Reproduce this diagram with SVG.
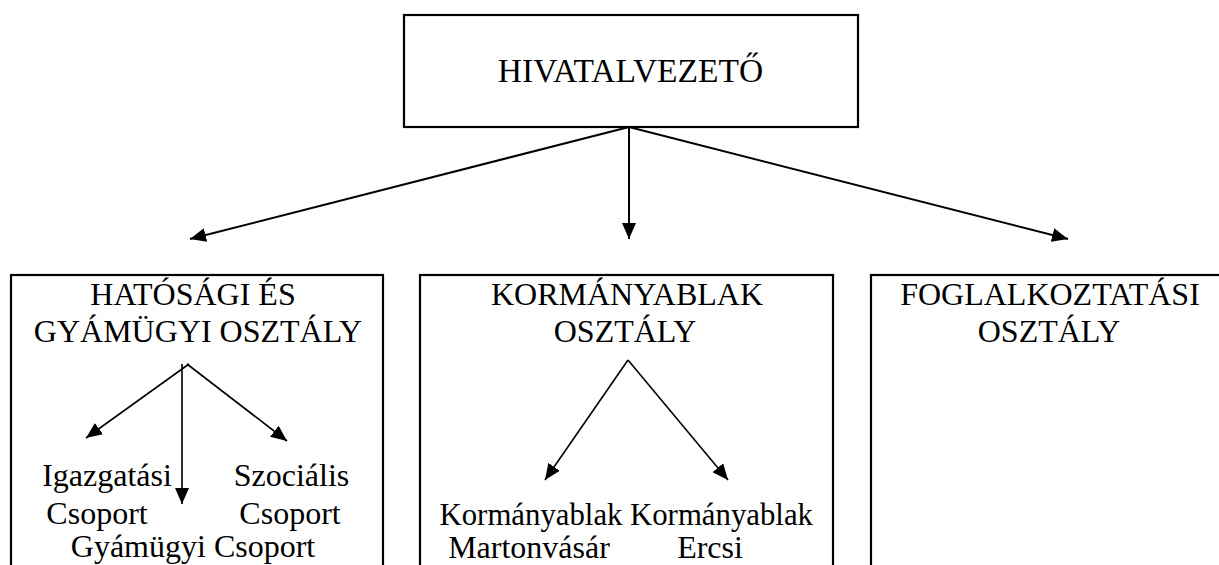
<svg xmlns="http://www.w3.org/2000/svg" width="1219" height="565" viewBox="0 0 1219 565">
<style>
.box{fill:#fff;stroke:#000;stroke-width:2.2}
.t{font-family:"Liberation Serif","Times New Roman",serif;font-size:32px;fill:#000;text-anchor:middle}
.h{font-size:33.5px}
.k{font-size:30.8px}
.c{stroke:#000;fill:none}
.main{stroke-width:2}
.sub{stroke-width:1.6}
</style>
<defs>
<marker id="ah" markerUnits="userSpaceOnUse" markerWidth="16" markerHeight="14" refX="16" refY="7" orient="auto">
<path d="M0,0 L16,7 L0,14 Z" fill="#000"/>
</marker>
</defs>
<rect width="1219" height="565" fill="#fff"/>
<g id="hivatalvezeto">
<rect class="box" x="404" y="15" width="454" height="112"/>
<text class="t h" x="630.5" y="82">HIVATALVEZETŐ</text>
</g>
<g id="hatosagi">
<rect class="box" x="11" y="275" width="372" height="310"/>
<text class="t" x="193" y="305">HATÓSÁGI ÉS</text>
<text class="t" x="198" y="342">GYÁMÜGYI OSZTÁLY</text>
</g>
<g id="igazgatasi">
<text class="t" x="107" y="486">Igazgatási</text>
<text class="t" x="97" y="524">Csoport</text>
</g>
<g id="szocialis">
<text class="t" x="291.5" y="486">Szociális</text>
<text class="t" x="290" y="524">Csoport</text>
</g>
<g id="gyamugyi">
<text class="t" x="193" y="557">Gyámügyi Csoport</text>
</g>
<g id="kormanyablak">
<rect class="box" x="420" y="275" width="413" height="310"/>
<text class="t" x="627" y="305">KORMÁNYABLAK</text>
<text class="t" x="625" y="342">OSZTÁLY</text>
</g>
<g id="martonvasar">
<text class="t k" x="531" y="525">Kormányablak</text>
<text class="t" x="529" y="558">Martonvásár</text>
</g>
<g id="ercsi">
<text class="t k" x="721.5" y="525">Kormányablak</text>
<text class="t" x="710" y="558">Ercsi</text>
</g>
<g id="foglalkoztatasi">
<rect class="box" x="871" y="275" width="370" height="310"/>
<text class="t" x="1050" y="305">FOGLALKOZTATÁSI</text>
<text class="t" x="1049" y="342">OSZTÁLY</text>
</g>
<g id="connectors">
<line class="c main" x1="629" y1="127" x2="190" y2="239" marker-end="url(#ah)"/>
<line class="c main" x1="629" y1="127" x2="629" y2="239" marker-end="url(#ah)"/>
<line class="c main" x1="629" y1="127" x2="1068" y2="239" marker-end="url(#ah)"/>
<line class="c sub" x1="189" y1="364" x2="86" y2="438" marker-end="url(#ah)"/>
<line class="c sub" x1="182" y1="364" x2="182" y2="504" marker-end="url(#ah)"/>
<line class="c sub" x1="187" y1="364" x2="287" y2="441" marker-end="url(#ah)"/>
<line class="c sub" x1="628" y1="360" x2="545" y2="480" marker-end="url(#ah)"/>
<line class="c sub" x1="628" y1="360" x2="728" y2="480" marker-end="url(#ah)"/>
</g>
</svg>
